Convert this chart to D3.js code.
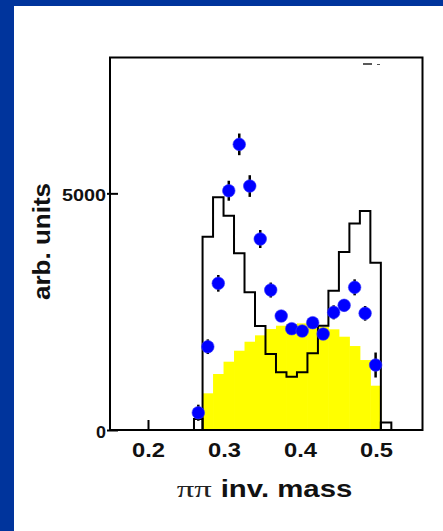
<!DOCTYPE html>
<html>
<head>
<meta charset="utf-8">
<script src="https://cdn.jsdelivr.net/npm/d3@7/dist/d3.min.js"></script>
<style>
  html, body { margin: 0; padding: 0; background: #fff; }
  svg { display: block; }
</style>
</head>
<body>
<script>
// ---- data ----------------------------------------------------------
// histogram bin edges in ππ invariant mass (GeV)
const binEdges = [0.2605, 0.2718, 0.2856, 0.2994, 0.3132, 0.3270, 0.3408, 0.3546,
                  0.3684, 0.3822, 0.3960, 0.4098, 0.4236, 0.4374, 0.4512, 0.4650,
                  0.4788, 0.4926, 0.5064, 0.5202];
// model curve (open step histogram), one value per bin
const modelCounts = [232, 4082, 4915, 4526, 3732, 2908, 2196, 1605, 1219, 1126,
                     1219, 1620, 2203, 2942, 3759, 4365, 4625, 3533, 160];
// phase-space (filled yellow histogram), one value per bin
const phaseSpace = [0, 775, 1183, 1443, 1675, 1865, 2000, 2133, 2203, 2232,
                    2253, 2232, 2182, 2127, 1971, 1774, 1478, 936, 0];
// measured points at bin centres
const dataMass = [0.2662, 0.2787, 0.2925, 0.3063, 0.3201, 0.3339, 0.3477, 0.3615, 0.3753,
                  0.3891, 0.4029, 0.4167, 0.4305, 0.4443, 0.4581, 0.4719, 0.4857, 0.4995];
const dataCounts = [365, 1760, 3099, 5055, 6035, 5154, 4035, 2957, 2408,
                    2140, 2091, 2267, 2028, 2486, 2634, 3014, 2465, 1373];
const dataErrors = [170, 155, 176, 211, 229, 229, 190, 158, 105,
                    105, 105, 105, 105, 148, 127, 169, 155, 264];
// axis ticks
const xTicks = [0.2, 0.3, 0.4, 0.5];
const xTickLabels = ["0.2", "0.3", "0.4", "0.5"];
const yTicks = [0, 5000];
const yTickLabels = ["0", "5000"];

// ---- layout --------------------------------------------------------
const W = 443, H = 531;
const plot = { left: 110, right: 422.5, top: 57.5, bottom: 430 };

const svg = d3.select("body").append("svg")
  .attr("width", W).attr("height", H);

// slide background: blue border with white page
svg.append("rect").attr("width", W).attr("height", H).attr("fill", "#00349c");
svg.append("rect").attr("x", 14).attr("y", 6).attr("width", W - 14).attr("height", H - 6)
  .attr("fill", "#ffffff");

const x = d3.scaleLinear().domain([0.15, 0.5612]).range([plot.left, plot.right]);
const y = d3.scaleLinear().domain([0, 7870]).range([plot.bottom, plot.top]);

// ---- axes (ticks sit under the histograms) --------------------------
const xAxis = svg.append("g")
  .attr("transform", `translate(0,${plot.bottom})`)
  .call(d3.axisBottom(x).tickValues(xTicks).tickSize(-10).tickPadding(14)
        .tickFormat((d, i) => xTickLabels[i]));
xAxis.select(".domain").remove();
xAxis.selectAll(".tick line").attr("stroke", "#000").attr("stroke-width", 2);
xAxis.selectAll(".tick text")
  .attr("font-family", "'Liberation Sans', Arial, sans-serif")
  .attr("font-weight", "bold").attr("font-size", 20).attr("fill", "#111")
  .attr("dy", null).attr("y", 26.5)
  .attr("textLength", 33).attr("lengthAdjust", "spacingAndGlyphs");

const yAxis = svg.append("g")
  .attr("transform", `translate(${plot.left},0)`)
  .call(d3.axisLeft(y).tickValues(yTicks).tickSize(3).tickPadding(4)
        .tickFormat((d, i) => yTickLabels[i]));
yAxis.select(".domain").remove();
yAxis.selectAll(".tick line").attr("x1", -3).attr("x2", 8)
  .attr("stroke", "#000").attr("stroke-width", 2);
yAxis.selectAll(".tick text")
  .attr("font-family", "'Liberation Sans', Arial, sans-serif")
  .attr("font-weight", "bold").attr("fill", "#111")
  .attr("x", -4).attr("dy", null)
  .each(function (d) {
    const t = d3.select(this);
    if (d === 0) {
      t.attr("font-size", 17).attr("y", 7).attr("textLength", 10);
    } else {
      t.attr("font-size", 16).attr("y", 7).attr("textLength", 44);
    }
    t.attr("lengthAdjust", "spacingAndGlyphs");
  });

// ---- phase-space histogram (filled) ---------------------------------
const bins = phaseSpace.map((v, i) => ({ x0: binEdges[i], x1: binEdges[i + 1], v }));
svg.append("g").selectAll("rect").data(bins.filter(b => b.v > 0)).join("rect")
  .attr("x", b => x(b.x0))
  .attr("width", b => x(b.x1) - x(b.x0) + 0.5)
  .attr("y", b => y(b.v))
  .attr("height", b => y(0) - y(b.v))
  .attr("fill", "#ffff00");

// ---- model histogram (open steps) -----------------------------------
function stepPath(from, to) {
  const p = d3.path();
  p.moveTo(x(binEdges[from]), y(0));
  for (let i = from; i <= to; i++) {
    p.lineTo(x(binEdges[i]), y(modelCounts[i]));
    p.lineTo(x(binEdges[i + 1]), y(modelCounts[i]));
  }
  p.lineTo(x(binEdges[to + 1]), y(0));
  return p.toString();
}
const last = modelCounts.length - 1;
svg.append("g").selectAll("path")
  .data([[0, 0], [1, last - 1], [last, last]]).join("path")
  .attr("d", d => stepPath(d[0], d[1]))
  .attr("fill", "none").attr("stroke", "#000").attr("stroke-width", 2)
  .attr("stroke-linejoin", "miter");

// ---- frame ----------------------------------------------------------
svg.append("rect")
  .attr("x", plot.left).attr("y", plot.top)
  .attr("width", plot.right - plot.left).attr("height", plot.bottom - plot.top)
  .attr("fill", "none").attr("stroke", "#000").attr("stroke-width", 2);

// small remnant marks at the top right inside the frame
svg.append("line").attr("x1", 363).attr("x2", 372).attr("y1", 64).attr("y2", 64)
  .attr("stroke", "#222").attr("stroke-width", 1.5);
svg.append("line").attr("x1", 377).attr("x2", 380).attr("y1", 64.5).attr("y2", 64.5)
  .attr("stroke", "#555").attr("stroke-width", 1);

// ---- measured points --------------------------------------------------
const pts = dataMass.map((m, i) => ({ m, v: dataCounts[i], e: dataErrors[i] }));
const gp = svg.append("g");
gp.selectAll("line").data(pts).join("line")
  .attr("x1", d => x(d.m)).attr("x2", d => x(d.m))
  .attr("y1", d => y(d.v - d.e)).attr("y2", d => y(d.v + d.e))
  .attr("stroke", "#000").attr("stroke-width", 2.5);
gp.selectAll("circle").data(pts).join("circle")
  .attr("cx", d => x(d.m)).attr("cy", d => y(d.v)).attr("r", 6.3)
  .attr("fill", "#0000ff").attr("stroke", "#3a3aff").attr("stroke-width", 1)
  .attr("stroke-opacity", 0.6);

// ---- axis titles -----------------------------------------------------
svg.append("text")
  .attr("transform", "translate(50,241.5) rotate(-90)")
  .attr("text-anchor", "middle")
  .attr("font-family", "'Liberation Sans', Arial, sans-serif")
  .attr("font-weight", "bold").attr("font-size", 23).attr("fill", "#111")
  .attr("textLength", 117).attr("lengthAdjust", "spacingAndGlyphs")
  .text("arb. units");

svg.append("text")
  .attr("x", 176.7).attr("y", 496.7)
  .attr("font-family", "'Liberation Serif', 'Times New Roman', serif")
  .attr("font-size", 24).attr("fill", "#222")
  .attr("textLength", 35).attr("lengthAdjust", "spacingAndGlyphs")
  .text("ππ");
svg.append("text")
  .attr("x", 220.7).attr("y", 496.7)
  .attr("font-family", "'Liberation Sans', Arial, sans-serif")
  .attr("font-weight", "bold").attr("font-size", 24).attr("fill", "#111")
  .attr("textLength", 131.6).attr("lengthAdjust", "spacingAndGlyphs")
  .text("inv. mass");
</script>
</body>
</html>
